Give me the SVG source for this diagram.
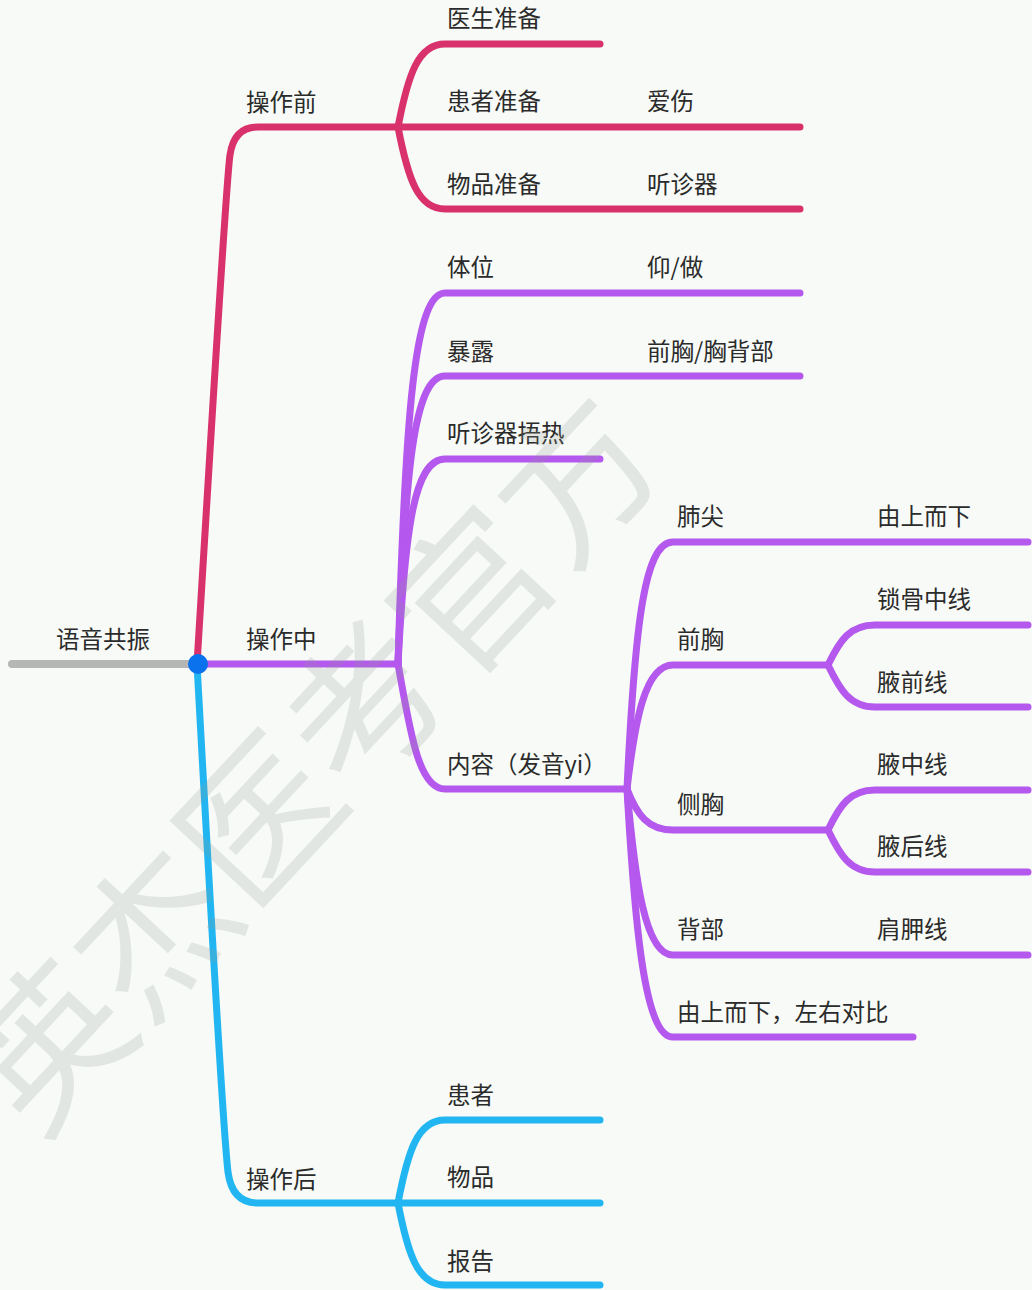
<svg xmlns="http://www.w3.org/2000/svg" width="1032" height="1290" viewBox="0 0 1032 1290">
<style>
.t{font-family:"Noto Sans CJK SC","Noto Sans",sans-serif;font-size:23.5px;fill:#2b2b2b}
.l{fill:none;stroke-width:7;stroke-linecap:round;stroke-linejoin:round}
.r{stroke:#d8316b}
.p{stroke:#b458ee}
.b{stroke:#21b6f2}
.g{stroke:#b6b6b6;stroke-width:8}
.wm{font-family:"Noto Sans CJK SC",sans-serif;font-size:155px;fill:#949a94;opacity:0.2}
</style>
<rect width="1032" height="1290" fill="#f7faf6"/>
<g id="connectors">
<path class="l g" d="M12,664 H197"/>
<path class="l r" d="M197,664 C212,420 226,180 230,155 Q234,127 258,127 H398"/>
<path class="l p" d="M197,664 H398"/>
<path class="l b" d="M197,664 C210,900 222,1120 228,1172 Q232,1203 258,1203 H398"/>
<path class="l r" d="M398,127 C408,75 418,44 445,44 H600"/>
<path class="l r" d="M398,127 H800"/>
<path class="l r" d="M398,127 C408,179 418,209 445,209 H800"/>
<path class="l p" d="M398,664 C405,420 414,293 445,293 H800"/>
<path class="l p" d="M398,664 C405,470 414,376 445,376 H800"/>
<path class="l p" d="M398,664 C405,530 414,459 445,459 H600"/>
<path class="l p" d="M398,664 C410,730 418,789 445,789 H627"/>
<path class="l p" d="M627,789 C635,620 645,542 673,542 H1028"/>
<path class="l p" d="M627,789 C635,720 645,665 673,665 H828"/>
<path class="l p" d="M627,789 C637,815 648,830 673,830 H828"/>
<path class="l p" d="M627,789 C635,880 645,955 673,955 H1028"/>
<path class="l p" d="M627,789 C635,930 645,1037 673,1037 H913"/>
<path class="l p" d="M828,665 C840,640 850,625 875,625 H1028"/>
<path class="l p" d="M828,665 C840,690 850,707 875,707 H1028"/>
<path class="l p" d="M828,830 C840,805 850,790 875,790 H1028"/>
<path class="l p" d="M828,830 C840,855 850,872 875,872 H1028"/>
<path class="l b" d="M398,1203 C408,1150 418,1120 445,1120 H600"/>
<path class="l b" d="M398,1203 H600"/>
<path class="l b" d="M398,1203 C408,1255 418,1285 445,1285 H600"/>
</g>
<g id="root"><text class="t" x="56" y="648">语音共振</text><circle cx="198" cy="664" r="10" fill="#0b72ee"/></g>
<g id="n-before"><text class="t" x="246" y="111">操作前</text></g>
<g id="n-during"><text class="t" x="246" y="648">操作中</text></g>
<g id="n-after"><text class="t" x="246" y="1188">操作后</text></g>
<g id="n-doctor"><text class="t" x="447" y="27">医生准备</text></g>
<g id="n-patient"><text class="t" x="447" y="110">患者准备</text></g>
<g id="n-aishang"><text class="t" x="647" y="110">爱伤</text></g>
<g id="n-items"><text class="t" x="447" y="193">物品准备</text></g>
<g id="n-steth"><text class="t" x="647" y="193">听诊器</text></g>
<g id="n-tiwei"><text class="t" x="447" y="276">体位</text></g>
<g id="n-yang"><text class="t" x="647" y="276">仰/做</text></g>
<g id="n-baolu"><text class="t" x="447" y="360">暴露</text></g>
<g id="n-qianxiong1"><text class="t" x="647" y="360">前胸/胸背部</text></g>
<g id="n-warm"><text class="t" x="447" y="442">听诊器捂热</text></g>
<g id="n-content"><text class="t" x="447" y="773">内容（发音yi）</text></g>
<g id="n-feijian"><text class="t" x="677" y="525">肺尖</text></g>
<g id="n-topdown"><text class="t" x="877" y="525">由上而下</text></g>
<g id="n-qianxiong"><text class="t" x="677" y="648">前胸</text></g>
<g id="n-suogu"><text class="t" x="877" y="608">锁骨中线</text></g>
<g id="n-yeqian"><text class="t" x="877" y="691">腋前线</text></g>
<g id="n-cexiong"><text class="t" x="677" y="813">侧胸</text></g>
<g id="n-yezhong"><text class="t" x="877" y="773">腋中线</text></g>
<g id="n-yehou"><text class="t" x="877" y="855">腋后线</text></g>
<g id="n-beibu"><text class="t" x="677" y="938">背部</text></g>
<g id="n-jianjia"><text class="t" x="877" y="938">肩胛线</text></g>
<g id="n-compare"><text class="t" x="677" y="1021">由上而下，左右对比</text></g>
<g id="n-huanzhe"><text class="t" x="447" y="1104">患者</text></g>
<g id="n-wupin"><text class="t" x="447" y="1186">物品</text></g>
<g id="n-baogao"><text class="t" x="447" y="1270">报告</text></g>
<text class="wm" x="0" y="0" text-anchor="middle" dominant-baseline="central" transform="translate(305,755) rotate(-47)">英杰医考官方</text>
</svg>
